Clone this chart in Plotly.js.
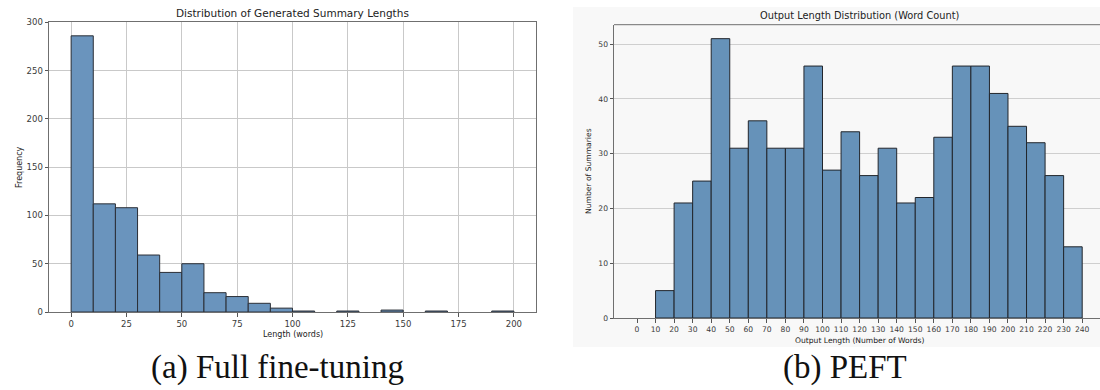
<!DOCTYPE html>
<html>
<head>
<meta charset="utf-8">
<script src="https://cdn.plot.ly/plotly-3.0.1.min.js"></script>
<style>
html,body{margin:0;padding:0;background:#fff;overflow:hidden;}
#chart{width:1100px;height:390px;}
</style>
</head>
<body>
<div id="chart"></div>
<script>
// (a) Full fine-tuning: histogram of generated summary lengths (bin width 10)
const fullBinStarts = [0,10,20,30,40,50,60,70,80,90,100,110,120,130,140,150,160,170,180,190];
const fullCounts    = [286,112,108,59,41,50,20,16,9,4,1,0,1,0,2,0,1,0,0,1];
const fullTicks     = [0,25,50,75,100,125,150,175,200];
const fullYTicks    = [0,50,100,150,200,250,300];

// (b) PEFT: output length distribution (bin width 10)
const peftBinStarts = [0,10,20,30,40,50,60,70,80,90,100,110,120,130,140,150,160,170,180,190,200,210,220,230];
const peftCounts    = [0,5,21,25,51,31,36,31,31,46,27,34,26,31,21,22,33,46,46,41,35,32,26,13];
const peftTicks     = [0,10,20,30,40,50,60,70,80,90,100,110,120,130,140,150,160,170,180,190,200,210,220,230,240];
const peftYTicks    = [0,10,20,30,40,50];

const W = 1100, H = 390;
const px = v => v / W;
const py = v => 1 - v / H;

const tickFont = {family: 'DejaVu Sans', size: 8.5, color: '#3a3a3a'};
const tickFontR = {family: 'DejaVu Sans', size: 7.6, color: '#3a3a3a'};

const edgeColors = (counts, c) => counts.map(v => v > 0 ? c : 'rgba(0,0,0,0)');

const traces = [
  {
    type: 'bar', x: fullBinStarts, y: fullCounts, offset: 0, width: 10,
    xaxis: 'x', yaxis: 'y',
    marker: {color: '#6a94bd', line: {color: edgeColors(fullCounts, '#2b2f36'), width: 1}},
    hoverinfo: 'skip'
  },
  {
    type: 'bar', x: peftBinStarts, y: peftCounts, offset: 0, width: 10,
    xaxis: 'x2', yaxis: 'y2',
    marker: {color: '#6692b9', line: {color: edgeColors(peftCounts, '#22262c'), width: 1}},
    hoverinfo: 'skip'
  }
];

const layout = {
  width: W, height: H, autosize: false,
  margin: {l: 0, r: 0, t: 0, b: 0, pad: 0},
  paper_bgcolor: '#ffffff',
  plot_bgcolor: 'rgba(0,0,0,0)',
  showlegend: false,
  bargap: 0,
  xaxis: {
    domain: [px(49), px(536)], anchor: 'y',
    range: [-10, 210], tickmode: 'array', tickvals: fullTicks,
    showgrid: true, gridcolor: '#c9c9c9', gridwidth: 1,
    zeroline: false, showline: true, mirror: true, linecolor: '#6f6f6f', linewidth: 1,
    ticks: 'outside', ticklen: 3.5, tickcolor: '#555', tickfont: tickFont
  },
  yaxis: {
    domain: [py(312), py(22.3)], anchor: 'x',
    range: [0, 300], tickmode: 'array', tickvals: fullYTicks,
    showgrid: true, gridcolor: '#c9c9c9', gridwidth: 1,
    zeroline: false, showline: true, mirror: true, linecolor: '#6f6f6f', linewidth: 1,
    ticks: 'outside', ticklen: 3.5, tickcolor: '#555', tickfont: tickFont
  },
  xaxis2: {
    domain: [px(614), 1], anchor: 'y2',
    range: [-12.4, 249.6], tickmode: 'array', tickvals: peftTicks,
    showgrid: false, zeroline: false, showline: true, linecolor: '#6f6f6f', linewidth: 1,
    ticks: 'outside', ticklen: 3.5, tickcolor: '#555', tickfont: tickFontR
  },
  yaxis2: {
    domain: [py(318), py(24.7)], anchor: 'x2',
    range: [0, 53.55], tickmode: 'array', tickvals: peftYTicks,
    showgrid: true, gridcolor: '#cfcfcf', gridwidth: 1,
    zeroline: false, showline: true, linecolor: '#6f6f6f', linewidth: 1,
    ticks: 'outside', ticklen: 3.5, tickcolor: '#555', tickfont: tickFontR
  },
  shapes: [
    {type: 'rect', xref: 'paper', yref: 'paper', layer: 'below',
     x0: px(573), x1: 1, y0: py(347), y1: py(7),
     fillcolor: '#f8f8f8', line: {width: 0}},
    {type: 'line', xref: 'paper', yref: 'paper', layer: 'above',
     x0: px(614), x1: 1, y0: py(24.7), y1: py(24.7),
     line: {color: '#6f6f6f', width: 1}}
  ],
  annotations: [
    {text: 'Distribution of Generated Summary Lengths', xref: 'paper', yref: 'paper',
     x: px(292.5), y: py(13), xanchor: 'center', yanchor: 'middle', showarrow: false,
     font: {family: 'DejaVu Sans', size: 10.5, color: '#222'}},
    {text: 'Frequency', xref: 'paper', yref: 'paper', textangle: -90,
     x: px(19), y: py(167), xanchor: 'center', yanchor: 'middle', showarrow: false,
     font: {family: 'DejaVu Sans', size: 8, color: '#222'}},
    {text: 'Length (words)', xref: 'paper', yref: 'paper',
     x: px(292.5), y: py(334), xanchor: 'center', yanchor: 'middle', showarrow: false,
     font: {family: 'DejaVu Sans', size: 8, color: '#222'}},
    {text: 'Output Length Distribution (Word Count)', xref: 'paper', yref: 'paper',
     x: px(859), y: py(15.5), xanchor: 'center', yanchor: 'middle', showarrow: false,
     font: {family: 'DejaVu Sans', size: 9.8, color: '#222'}},
    {text: 'Number of Summaries', xref: 'paper', yref: 'paper', textangle: -90,
     x: px(588), y: py(171), xanchor: 'center', yanchor: 'middle', showarrow: false,
     font: {family: 'DejaVu Sans', size: 7.6, color: '#222'}},
    {text: 'Output Length (Number of Words)', xref: 'paper', yref: 'paper',
     x: px(859), y: py(340), xanchor: 'center', yanchor: 'middle', showarrow: false,
     font: {family: 'DejaVu Sans', size: 7.6, color: '#222'}},
    {text: '(a) Full fine-tuning', xref: 'paper', yref: 'paper',
     x: px(277), y: py(367.5), xanchor: 'center', yanchor: 'middle', showarrow: false,
     font: {family: 'Liberation Serif', size: 33, color: '#111'}},
    {text: '(b) PEFT', xref: 'paper', yref: 'paper',
     x: px(845), y: py(367.5), xanchor: 'center', yanchor: 'middle', showarrow: false,
     font: {family: 'Liberation Serif', size: 33, color: '#111'}}
  ]
};

Plotly.newPlot('chart', traces, layout, {staticPlot: true, displayModeBar: false});
</script>
</body>
</html>
